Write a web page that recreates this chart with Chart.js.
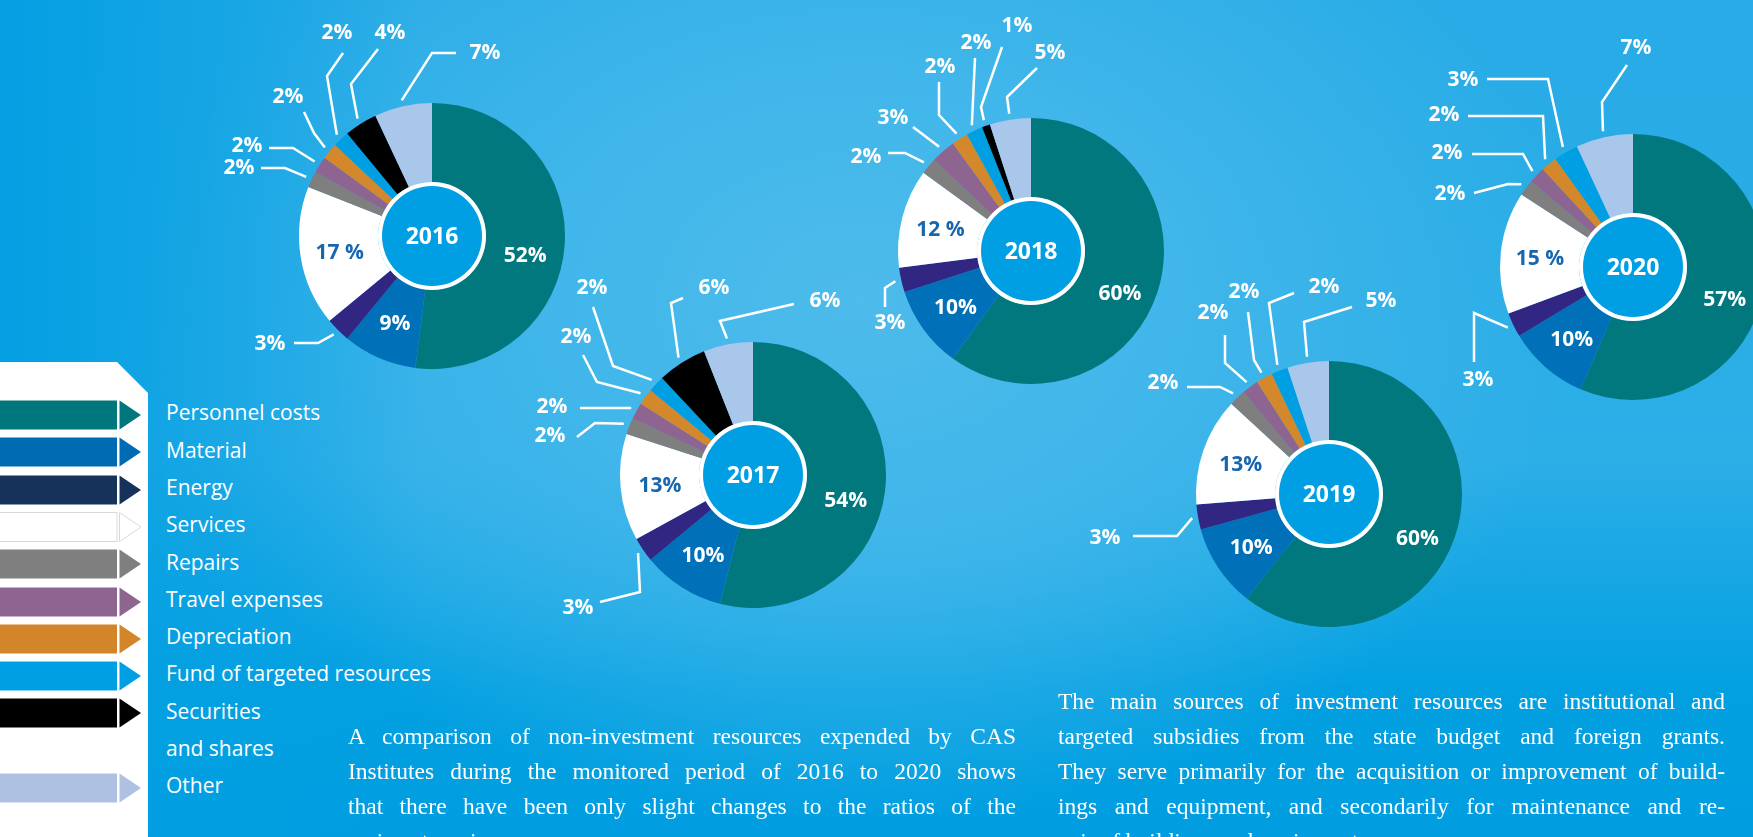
<!DOCTYPE html>
<html>
<head>
<meta charset="utf-8">
<script src="https://cdn.jsdelivr.net/npm/chart.js@4.4.1/dist/chart.umd.min.js"></script>
<style>
    body {
        margin: 0;
        width: 1753px;
        height: 837px;
        overflow: hidden;
        position: relative;
        font-family: "Open Sans", sans-serif;
        background:
            linear-gradient(to right, rgba(3, 159, 226, 1) 0px, rgba(3, 159, 226, 0) 420px),
            radial-gradient(ellipse 720px 520px at 860px 300px, #4dbbeb 0%, #40b6ea 45%, rgba(45, 172, 231, 0) 100%),
            linear-gradient(to bottom, #28abe6 0%, #2caee7 55%, #03a0e1 82%, #009ee0 100%);
    }
    .panel {
        position: absolute;
        left: 0;
        top: 362px;
        width: 148px;
        height: 475px;
        background: #fff;
        clip-path: polygon(0 0, 117px 0, 148px 31px, 148px 100%, 0 100%);
    }
    .arrow { position: absolute; left: 0; }
    .key {
        position: absolute;
        left: 166px;
        color: #fff;
        font-size: 21px;
        line-height: 37.3px;
        white-space: nowrap;
    }
    .chart { position: absolute; width: 520px; height: 520px; }
    .para {
        position: absolute;
        color: #fff;
        font-family: "Liberation Serif", serif;
        font-size: 23.5px;
        line-height: 35px;
    }
    .para div { text-align: justify; text-align-last: justify; }
    .para div.last { text-align-last: left; }
</style>
</head>
<body>
<div class="panel"></div>
<div id="legend"></div>
<div id="charts"></div>

<div class="para" style="left:348px; top:719px; width:668px;">
    <div>A comparison of non-investment resources expended by CAS</div>
    <div>Institutes during the monitored period of 2016 to 2020 shows</div>
    <div>that there have been only slight changes to the ratios of the</div>
    <div class="last">main categories.</div>
</div>
<div class="para" style="left:1058px; top:684px; width:667px;">
    <div>The main sources of investment resources are institutional and</div>
    <div>targeted subsidies from the state budget and foreign grants.</div>
    <div>They serve primarily for the acquisition or improvement of build-</div>
    <div>ings and equipment, and secondarily for maintenance and re-</div>
    <div class="last">pair of buildings and equipment.</div>
</div>

<script>
const categories = [
    "Personnel costs", "Material", "Energy", "Services", "Repairs",
    "Travel expenses", "Depreciation", "Fund of targeted resources",
    "Securities and shares", "Other"
];
const years = ["2016", "2017", "2018", "2019", "2020"];

const share2016 = [52, 9, 3, 17, 2, 2, 2, 2, 4, 7];
const share2017 = [54, 10, 3, 13, 2, 2, 2, 2, 6, 6];
const share2018 = [60, 10, 3, 12, 2, 3, 2, 2, 1, 5];
const share2019 = [60, 10, 3, 13, 2, 2, 2, 2, 0, 5];
const share2020 = [57, 10, 3, 15, 2, 2, 2, 3, 0, 7];
const shares = [share2016, share2017, share2018, share2019, share2020];

// the services share is printed as "17 %" in some years
const spacedServices = [true, false, true, false, true];

const sliceColors = ["#00787e", "#0070b8", "#312783", "#ffffff", "#7f7f7f",
    "#8e6490", "#d4882c", "#009fe3", "#000000", "#a9c7eb"];
const legendColors = ["#00777c", "#006ab3", "#17325a", "#ffffff", "#7f7f7f",
    "#8e6490", "#d3852a", "#009fe3", "#000000", "#aec1e3"];

// layout
const centres = [[432, 236], [753, 475], [1031, 251], [1329, 494], [1633, 267]];
const RADIUS = 133;
const HOLE = 54;
const BOX = 520;
const INSIDE = [0, 1, 3];

// callouts: t = text centre, e = elbow, k = line end near text (relative to donut centre)
const callouts = [
    {
        2: {t: [-162, 108], k: [-138, 107], e: [-114, 107]},
        4: {t: [-193, -68], k: [-171, -68], e: [-147, -68]},
        5: {t: [-185, -90], k: [-163, -88], e: [-139, -88]},
        6: {t: [-144, -139], k: [-128, -124], e: [-118, -103]},
        7: {t: [-95, -203], k: [-89, -183], e: [-105, -160]},
        8: {t: [-42, -203], k: [-54, -187], e: [-81, -152]},
        9: {t: [53, -183], k: [24, -183], e: [0, -183]}
    },
    {
        2: {t: [-175, 133], k: [-153, 127], e: [-113, 117]},
        4: {t: [-203, -39], k: [-176, -38], e: [-158, -52]},
        5: {t: [-201, -68], k: [-173, -67], e: null},
        6: {t: [-177, -138], k: [-170, -120], e: [-156, -93]},
        7: {t: [-161, -187], k: [-160, -168], e: [-140, -109]},
        8: {t: [-39, -187], k: [-70, -177], e: [-82, -172]},
        9: {t: [72, -174], k: [41, -171], e: [-33, -154]}
    },
    {
        2: {t: [-141, 72], k: [-146, 56], e: [-146, 37]},
        4: {t: [-165, -94], k: [-143, -98], e: [-126, -98]},
        5: {t: [-138, -133], k: [-118, -124], e: null},
        6: {t: [-91, -184], k: [-92, -169], e: [-92, -136]},
        7: {t: [-55, -208], k: [-56, -193], e: null},
        8: {t: [-14, -225], k: [-29, -204], e: [-50, -144]},
        9: {t: [19, -198], k: [6, -183], e: [-24, -154]}
    },
    {
        2: {t: [-224, 44], k: [-196, 42], e: [-152, 42]},
        4: {t: [-166, -111], k: [-142, -107], e: [-109, -107]},
        5: {t: [-116, -181], k: [-104, -159], e: [-104, -131]},
        6: {t: [-85, -202], k: [-81, -182], e: [-75, -134]},
        7: {t: [-5, -207], k: [-35, -201], e: [-60, -191]},
        9: {t: [52, -193], k: [23, -187], e: [-25, -172]}
    },
    {
        2: {t: [-155, 113], k: [-159, 95], e: [-159, 46]},
        4: {t: [-183, -73], k: [-159, -74], e: [-125, -83]},
        5: {t: [-186, -114], k: [-161, -113], e: [-110, -113]},
        6: {t: [-189, -152], k: [-165, -151], e: [-90, -151]},
        7: {t: [-170, -187], k: [-146, -188], e: [-85, -188]},
        9: {t: [3, -219], k: [-6, -202], e: [-31, -165]}
    }
];

const calloutPlugin = {
    id: "callouts",
    afterDatasetsDraw(chart, args, opts) {
        const ctx = chart.ctx;
        const arcs = chart.getDatasetMeta(0).data;
        const values = chart.data.datasets[0].data;
        const cx = arcs[0].x, cy = arcs[0].y;
        const rIn = arcs[0].innerRadius, rOut = arcs[0].outerRadius;
        const pt = (a, r) => [cx + r * Math.cos(a), cy + r * Math.sin(a)];

        ctx.save();
        // hub
        ctx.beginPath();
        ctx.arc(cx, cy, rIn, 0, Math.PI * 2);
        ctx.fillStyle = "#ffffff";
        ctx.fill();
        ctx.beginPath();
        ctx.arc(cx, cy, rIn - 4, 0, Math.PI * 2);
        ctx.fillStyle = "#009fe3";
        ctx.fill();

        ctx.textAlign = "center";
        ctx.textBaseline = "middle";
        ctx.fillStyle = "#ffffff";
        ctx.font = "700 23px 'Open Sans'";
        ctx.fillText(opts.year, cx, cy + 1);

        ctx.font = "700 21px 'Open Sans'";
        ctx.strokeStyle = "#ffffff";
        ctx.lineWidth = 2.5;
        arcs.forEach((arc, i) => {
            const v = values[i];
            if (!v) return;
            const mid = (arc.startAngle + arc.endAngle) / 2;
            const txt = (i === 3 && opts.spaced) ? v + " %" : v + "%";
            if (INSIDE.includes(i)) {
                const [x, y] = pt(mid, (rIn + rOut) / 2);
                ctx.fillStyle = i === 3 ? "#1767b0" : "#ffffff";
                ctx.fillText(txt, x, y + (i === 0 ? 14 : 2));
                return;
            }
            const c = opts.items[i];
            if (!c) return;
            const [ax, ay] = pt(mid, rOut + 6);
            ctx.beginPath();
            ctx.moveTo(ax, ay);
            if (c.e) ctx.lineTo(cx + c.e[0], cy + c.e[1]);
            ctx.lineTo(cx + c.k[0], cy + c.k[1]);
            ctx.stroke();
            ctx.fillStyle = "#ffffff";
            ctx.fillText(txt, cx + c.t[0], cy + c.t[1]);
        });
        ctx.restore();
    }
};

(function buildLegend() {
    const legend = document.getElementById("legend");
    const step = 37.3;
    categories.forEach((name, i) => {
        const top = 400 + step * (i === 9 ? 10 : i);
        const fill = legendColors[i];
        const line = i === 3 ? ' stroke="#d8d8d8" stroke-width="1"' : "";
        const arrow = document.createElement("div");
        arrow.className = "arrow";
        arrow.style.top = top + "px";
        arrow.innerHTML =
            `<svg width="142" height="30"><rect x="-2" y="0.5" width="119" height="29" fill="${fill}"${line}/>` +
            `<polygon points="119.5,0.5 141,15 119.5,29.5" fill="${fill}"${line}/></svg>`;
        legend.appendChild(arrow);

        const key = document.createElement("div");
        key.className = "key";
        key.style.top = (top + 13 - step / 2) + "px";
        key.innerHTML = i === 8 ? "Securities<br>and shares" : name;
        legend.appendChild(key);
    });
})();

const holder = document.getElementById("charts");
years.forEach((year, k) => {
    const box = document.createElement("div");
    box.className = "chart";
    box.style.left = (centres[k][0] - BOX / 2) + "px";
    box.style.top = (centres[k][1] - BOX / 2) + "px";
    const canvas = document.createElement("canvas");
    box.appendChild(canvas);
    holder.appendChild(box);

    new Chart(canvas, {
        type: "doughnut",
        data: {
            labels: categories,
            datasets: [{
                data: shares[k],
                backgroundColor: sliceColors,
                borderWidth: 0,
                hoverOffset: 0
            }]
        },
        options: {
            responsive: true,
            maintainAspectRatio: false,
            animation: false,
            events: [],
            cutout: HOLE,
            layout: {padding: BOX / 2 - RADIUS},
            plugins: {
                legend: {display: false},
                tooltip: {enabled: false},
                callouts: {year: year, items: callouts[k], spaced: spacedServices[k]}
            }
        },
        plugins: [calloutPlugin]
    });
});
</script>
</body>
</html>
